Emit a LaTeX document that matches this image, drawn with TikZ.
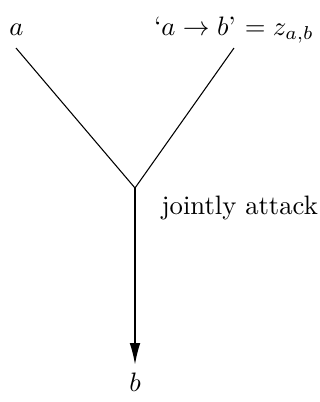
\documentclass[tikz,border=0pt]{standalone}
\usetikzlibrary{arrows.meta}
\begin{document}
\begin{tikzpicture}[x=0.375pt,y=-0.375pt,
  lbl/.style={anchor=base,inner sep=0pt},
  edge/.style={line width=0.4pt},
  arr/.style={edge,-{Latex[length=8pt,width=4pt]}}]
\useasboundingbox (0,0) rectangle (320,402);
\node[lbl] (a) at (16.5,35) {$a$};
\node[lbl] (z) at (234,35) {`$a\rightarrow b$' $= z_{a,b}$};
\coordinate (a1) at (16,48);
\coordinate (z1) at (234,48);
\coordinate (j) at (135,188);
\node[anchor=base west,inner sep=0pt] (t) at (161,214) {jointly attack};
\node[lbl] (b) at (135,391) {$b$};
\draw[edge] (a1) -- (j);
\draw[edge] (z1) -- (j);
\draw[arr,shorten >=10pt] (j) -- (b.base);
\end{tikzpicture}
\end{document}
